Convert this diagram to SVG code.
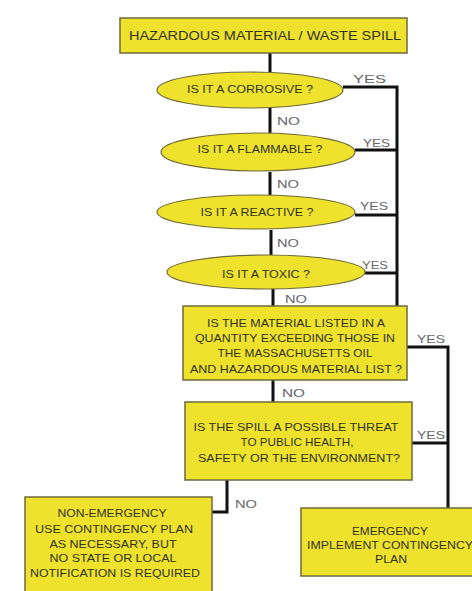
<svg xmlns="http://www.w3.org/2000/svg" width="472" height="591" viewBox="0 0 472 591">
<style>
.box{fill:#eee22c;stroke:#6f6a3a;stroke-width:1.5}
.ell{fill:#eee22c;stroke:#6f6a3a;stroke-width:1.2}
.t{font-family:"Liberation Sans",Arial,sans-serif;font-size:10.5px;fill:#333326;text-anchor:middle}
.big{font-size:13px}
.lbl{font-family:"Liberation Sans",Arial,sans-serif;font-size:11px;fill:#666}
.c{fill:none;stroke:#111;stroke-width:3}
</style>
<rect width="472" height="591" fill="#fff"/>
<g id="connectors">
<path class="c" d="M270 53V72M270 108V133M270 172V195M271 230V255M273 289V306M273 380V402"/>
<path class="c" d="M343 87H397V306M355 150H397M355 215H397M365 273H397"/>
<path class="c" d="M407 347H448V508M412 443H448"/>
<path class="c" d="M227 480V512H212"/>
<text class="lbl" x="353" y="83" textLength="33" lengthAdjust="spacingAndGlyphs">YES</text>
<text class="lbl" x="277" y="125" textLength="23" lengthAdjust="spacingAndGlyphs">NO</text>
<text class="lbl" x="363" y="147" textLength="27" lengthAdjust="spacingAndGlyphs">YES</text>
<text class="lbl" x="277" y="188" textLength="22" lengthAdjust="spacingAndGlyphs">NO</text>
<text class="lbl" x="360" y="210" textLength="28" lengthAdjust="spacingAndGlyphs">YES</text>
<text class="lbl" x="277" y="247" textLength="22" lengthAdjust="spacingAndGlyphs">NO</text>
<text class="lbl" x="362" y="269" textLength="26" lengthAdjust="spacingAndGlyphs">YES</text>
<text class="lbl" x="285" y="303" textLength="22" lengthAdjust="spacingAndGlyphs">NO</text>
<text class="lbl" x="417" y="343" textLength="28" lengthAdjust="spacingAndGlyphs">YES</text>
<text class="lbl" x="282" y="397" textLength="23" lengthAdjust="spacingAndGlyphs">NO</text>
<text class="lbl" x="417" y="439" textLength="28" lengthAdjust="spacingAndGlyphs">YES</text>
<text class="lbl" x="235" y="508" textLength="22" lengthAdjust="spacingAndGlyphs">NO</text>
</g>
<g id="start">
<rect class="box" x="120" y="18" width="287" height="35"/>
<text class="t big" x="265" y="40" textLength="272" lengthAdjust="spacingAndGlyphs">HAZARDOUS MATERIAL / WASTE SPILL</text>
</g>
<g id="corrosive">
<ellipse class="ell" cx="250" cy="90" rx="93" ry="18"/>
<text class="t" x="250" y="93" textLength="126" lengthAdjust="spacingAndGlyphs">IS IT A CORROSIVE ?</text>
</g>
<g id="flammable">
<ellipse class="ell" cx="258" cy="152" rx="97" ry="19"/>
<text class="t" x="260" y="153" textLength="125" lengthAdjust="spacingAndGlyphs">IS IT A FLAMMABLE ?</text>
</g>
<g id="reactive">
<ellipse class="ell" cx="256" cy="212" rx="99" ry="17"/>
<text class="t" x="257" y="216" textLength="113" lengthAdjust="spacingAndGlyphs">IS IT A REACTIVE ?</text>
</g>
<g id="toxic">
<ellipse class="ell" cx="266" cy="272" rx="99" ry="17"/>
<text class="t" x="266" y="278" textLength="88" lengthAdjust="spacingAndGlyphs">IS IT A TOXIC ?</text>
</g>
<g id="listed">
<rect class="box" x="183" y="306" width="224" height="74"/>
<text class="t" x="296" y="327" textLength="178" lengthAdjust="spacingAndGlyphs">IS THE MATERIAL LISTED IN A</text>
<text class="t" x="295" y="342" textLength="200" lengthAdjust="spacingAndGlyphs">QUANTITY EXCEEDING THOSE IN</text>
<text class="t" x="295" y="357" textLength="155" lengthAdjust="spacingAndGlyphs">THE MASSACHUSETTS OIL</text>
<text class="t" x="296" y="373" textLength="212" lengthAdjust="spacingAndGlyphs">AND HAZARDOUS MATERIAL LIST ?</text>
</g>
<g id="threat">
<rect class="box" x="185" y="402" width="227" height="78"/>
<text class="t" x="296" y="431" textLength="205" lengthAdjust="spacingAndGlyphs">IS THE SPILL A POSSIBLE THREAT</text>
<text class="t" x="297" y="446" textLength="113" lengthAdjust="spacingAndGlyphs">TO PUBLIC HEALTH,</text>
<text class="t" x="299" y="462" textLength="202" lengthAdjust="spacingAndGlyphs">SAFETY OR THE ENVIRONMENT?</text>
</g>
<g id="non-emergency">
<rect class="box" x="25" y="497" width="187" height="100"/>
<text class="t" x="112" y="517" textLength="109" lengthAdjust="spacingAndGlyphs">NON-EMERGENCY</text>
<text class="t" x="114" y="533" textLength="158" lengthAdjust="spacingAndGlyphs">USE CONTINGENCY PLAN</text>
<text class="t" x="113" y="548" textLength="127" lengthAdjust="spacingAndGlyphs">AS NECESSARY, BUT</text>
<text class="t" x="113" y="562" textLength="127" lengthAdjust="spacingAndGlyphs">NO STATE OR LOCAL</text>
<text class="t" x="115" y="577" textLength="170" lengthAdjust="spacingAndGlyphs">NOTIFICATION IS REQUIRED</text>
</g>
<g id="emergency">
<rect class="box" x="301" y="508" width="176" height="68"/>
<text class="t" x="390" y="535" textLength="76" lengthAdjust="spacingAndGlyphs">EMERGENCY</text>
<text class="t" x="390" y="549" textLength="166" lengthAdjust="spacingAndGlyphs">IMPLEMENT CONTINGENCY</text>
<text class="t" x="391" y="563" textLength="32" lengthAdjust="spacingAndGlyphs">PLAN</text>
</g>
</svg>
